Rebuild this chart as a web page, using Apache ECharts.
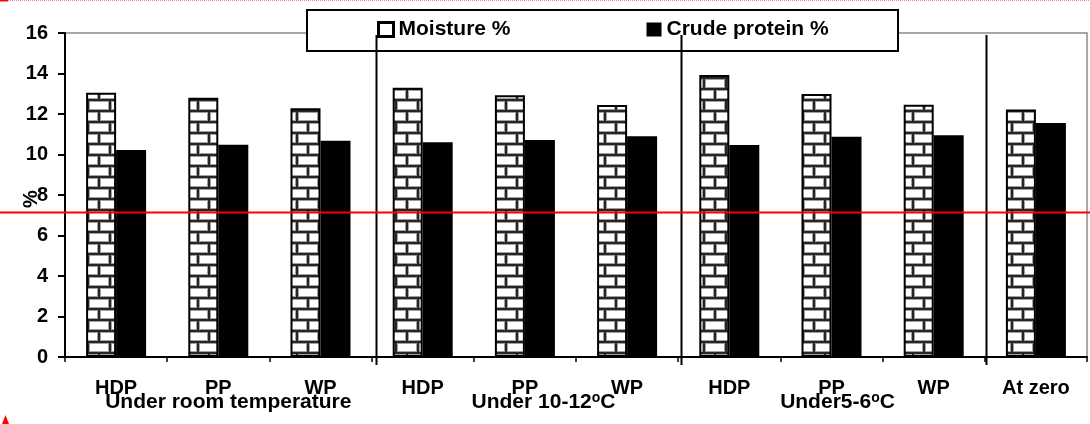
<!DOCTYPE html>
<html><head><meta charset="utf-8">
<script src="https://cdn.jsdelivr.net/npm/echarts@6/dist/echarts.min.js"></script>
<style>html,body{margin:0;padding:0;background:#fff}#c{width:1090px;height:424px}</style>
</head><body><div id="c"></div>
<script>
// ---- data ----
const categories = ['HDP', 'PP', 'WP', 'HDP', 'PP', 'WP', 'HDP', 'PP', 'WP', 'At zero'];
const moisture = [13.05, 12.8, 12.28, 13.3, 12.92, 12.44, 13.93, 12.99, 12.46, 12.22];
const crudeProtein = [10.22, 10.48, 10.68, 10.6, 10.72, 10.9, 10.47, 10.88, 10.95, 11.55];
const seriesNames = ['Moisture %', 'Crude protein %'];
const yMin = 0, yMax = 16, yInterval = 2;
const groupLabels = [
  { main: 'Under room temperature', sup: '', tail: '', at: 1 },
  { main: 'Under 10-12', sup: 'o', tail: 'C', at: 4 },
  { main: 'Under5-6', sup: 'o', tail: 'C', at: 7 }
];
const separatorsAfter = [2, 5, 8];
const redLineValue = 7.15;

const FONT = '"Liberation Sans", Arial, sans-serif';

function brickPattern() {
  const c = document.createElement('canvas');
  c.width = 22; c.height = 22;
  const g = c.getContext('2d');
  g.fillStyle = '#262626'; g.fillRect(0, 0, 22, 22);
  function b(x, y, w, h) {
    g.fillStyle = '#a0a0a0'; g.fillRect(x, y, w, h);
    g.fillStyle = '#ffffff'; g.fillRect(x + 1, y + 1, w - 2, h - 2);
  }
  b(12, 2, 20, 9); b(-10, 2, 20, 9);
  b(1, 13, 20, 9); b(23, 13, 20, 9); b(-21, 13, 20, 9);
  return c;
}

const chart = echarts.init(document.getElementById('c'), null, { renderer: 'canvas' });
const option = {
  animation: false,
  backgroundColor: '#fff',
  grid: { left: 65, right: 3, top: 33, bottom: 67, show: true, borderColor: '#8a8a8a', borderWidth: 1.5, backgroundColor: 'transparent' },
  legend: {
    left: 372, top: 14, padding: 5, itemWidth: 15, itemHeight: 14, itemGap: 136, icon: 'rect',
    textStyle: { fontFamily: FONT, fontSize: 21, fontWeight: 'bold', color: '#000' },
    data: [
      { name: seriesNames[0], itemStyle: { color: '#fff', borderColor: '#000', borderWidth: 3 } },
      { name: seriesNames[1], itemStyle: { color: '#000' } }
    ],
    z: 8
  },
  xAxis: {
    type: 'category', data: categories, boundaryGap: true,
    axisLine: { lineStyle: { color: '#000', width: 2 } },
    axisTick: { show: true, length: 5, lineStyle: { color: '#000', width: 1.5 } },
    axisLabel: { margin: 21, fontFamily: FONT, fontSize: 20, fontWeight: 'bold', color: '#000', interval: 0 },
    splitLine: { show: false }
  },
  yAxis: {
    type: 'value', min: yMin, max: yMax, interval: yInterval,
    axisLine: { show: true, lineStyle: { color: '#000', width: 2 } },
    axisTick: { show: true, length: 7, lineStyle: { color: '#000', width: 2 } },
    axisLabel: { margin: 17, fontFamily: FONT, fontSize: 20, fontWeight: 'bold', color: '#000' },
    splitLine: { show: false }
  },
  series: [
    { name: seriesNames[0], type: 'bar', data: moisture, barWidth: 30, barGap: '0%',
      itemStyle: { color: { image: brickPattern(), repeat: 'repeat' }, borderColor: '#000', borderWidth: 2 } },
    { name: seriesNames[1], type: 'bar', data: crudeProtein, barWidth: 30, barGap: '0%',
      itemStyle: { color: '#000' } }
  ]
};
chart.setOption(option);

// ---- decorations computed from axes ----
const px = i => chart.convertToPixel({ xAxisIndex: 0 }, i);
const py = v => chart.convertToPixel({ yAxisIndex: 0 }, v);
const step = px(1) - px(0);
const g = [];
// legend box
g.push({ type: 'rect', z: 3, shape: { x: 307, y: 10, width: 591, height: 41 }, style: { fill: '#fff', stroke: '#000', lineWidth: 2 } });
// separators
const sepOff = [4, 3, 1];
separatorsAfter.forEach((i, k) => {
  const x = Math.round(px(i) + step / 2 + sepOff[k]) + 0.5;
  g.push({ type: 'line', z: 9, shape: { x1: x, y1: 35, x2: x, y2: 365 }, style: { stroke: '#000', lineWidth: 2 } });
});
// group labels
const grpOff = [10, 18.6, 6];
groupLabels.forEach((gl, k) => {
  const x = px(gl.at) + grpOff[k];
  let text = '{a|' + gl.main + '}';
  if (gl.sup) text += '{s|' + gl.sup + '}{a|' + gl.tail + '}';
  g.push({ type: 'text', z: 9, x: x, y: 402, style: {
    text: text, align: 'center', verticalAlign: 'middle',
    rich: {
      a: { fontFamily: FONT, fontSize: 21, fontWeight: 'bold', fill: '#000', lineHeight: 22 },
      s: { fontFamily: FONT, fontSize: 14, fontWeight: 'bold', fill: '#000', verticalAlign: 'top', lineHeight: 22, padding: [0, 0, 14, 0] }
    } } });
});
// y axis name
g.push({ type: 'text', z: 9, x: 31, y: 199, rotation: Math.PI / 2, style: { text: '%', align: 'center', verticalAlign: 'middle', fontFamily: FONT, fontSize: 20, fontWeight: 'bold', fill: '#000' } });
// red horizontal line
const ry = Math.round(py(redLineValue)) + 0.5;
g.push({ type: 'line', z: 20, shape: { x1: 0, y1: ry, x2: 1090, y2: ry }, style: { stroke: '#ff0000', lineWidth: 2 } });
// red dotted top edge
g.push({ type: 'line', z: 20, shape: { x1: 0, y1: 0.5, x2: 1090, y2: 0.5 }, style: { stroke: '#ff8080', lineWidth: 1, lineDash: [1, 1] } });
g.push({ type: 'rect', z: 20, shape: { x: 0, y: 0, width: 8, height: 1.5 }, style: { fill: '#ff0000' } });
// red triangle bottom-left
g.push({ type: 'polygon', z: 20, shape: { points: [[2, 424], [9, 424], [5.5, 415]] }, style: { fill: '#ff0000' } });
chart.setOption({ graphic: g });
</script>
</body></html>
